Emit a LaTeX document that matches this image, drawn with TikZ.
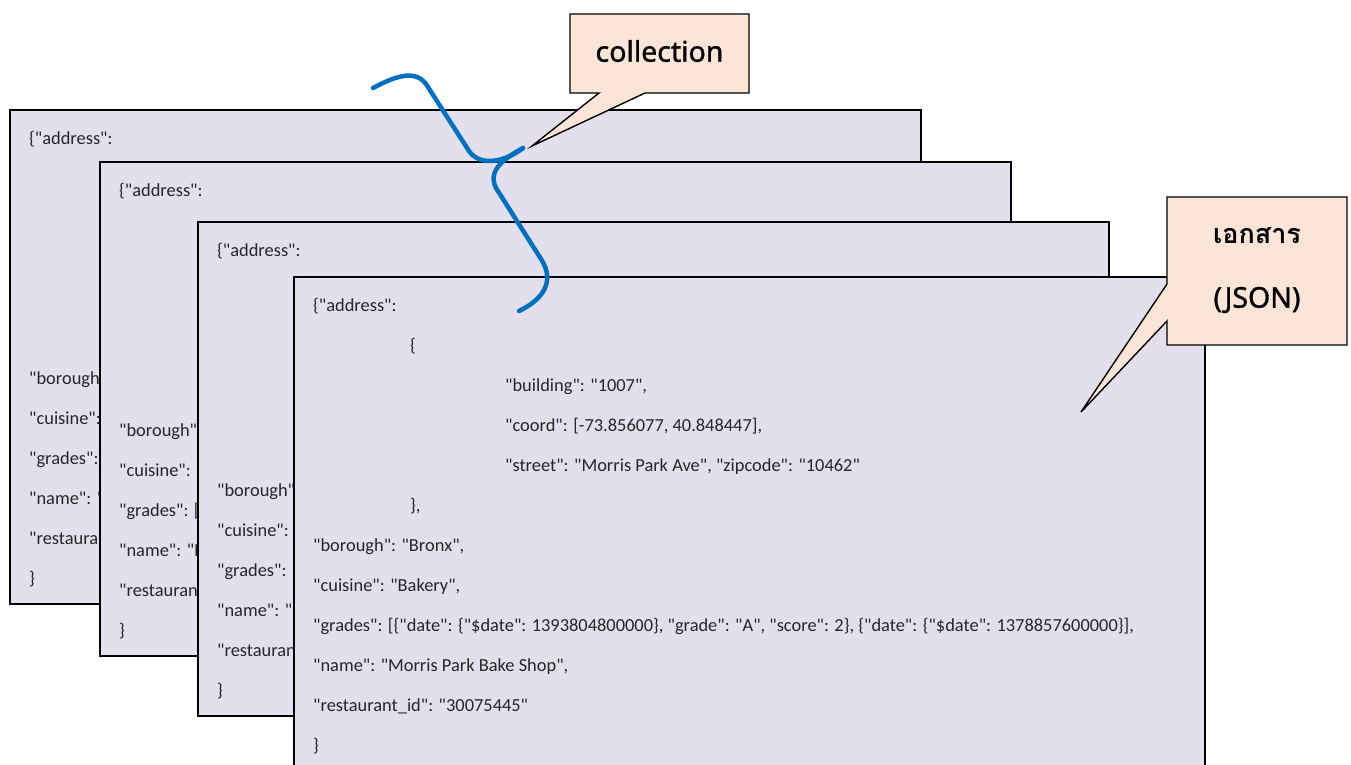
\documentclass[tikz,border=0pt]{standalone}
\usepackage{fontspec}
\newfontfamily\jsonfont{Carlito}
\newfontfamily\labelfont{Noto Sans}[FakeBold=1.2]
\newfontfamily\thaifont[Script=Thai]{Loma}
\definecolor{cardfill}{HTML}{E4DFEC}
\definecolor{notefill}{HTML}{FBE5D6}
\definecolor{bracecol}{HTML}{0070C0}

\tikzset{
  card/.style={draw=black, line width=1.8pt, fill=cardfill, anchor=north west,
    minimum width=911pt, minimum height=494pt, inner sep=0pt, outer sep=0pt},
  json/.style={anchor=base west, inner sep=0pt, text=black!85,
    font=\jsonfont\fontsize{18.4}{21}\selectfont},
  note/.style={draw=black, line width=1.4pt, fill=notefill, line join=miter},
  notetext/.style={inner sep=0pt, font=\labelfont\fontsize{28.5}{32}\selectfont},
  thainote/.style={inner sep=0pt, font=\thaifont\bfseries\fontsize{27}{30}\selectfont},
  brace/.style={draw=bracecol, line width=4.5pt, line cap=round, line join=round}
}

% one JSON document card; #1 name, (#2,#3) top-left corner
\newcommand\jsoncard[3]{%
  \begin{scope}[shift={(#2,#3)}]
    \node[card] (#1) at (0,0) {};
    \node[json] (#1-0)  at (19,34)  {\{"address":};
    \node[json] (#1-1)  at (116,74) {\{};
    \node[json] (#1-2)  at (211,114) {"building": "1007",};
    \node[json] (#1-3)  at (211,154) {"coord": [-73.856077, 40.848447],};
    \node[json] (#1-4)  at (211,194) {"street": "Morris Park Ave", "zipcode": "10462"};
    \node[json] (#1-5)  at (116,234) {\},};
    \node[json] (#1-6)  at (19,274) {"borough": "Bronx",};
    \node[json] (#1-7)  at (19,314) {"cuisine": "Bakery",};
    \node[json] (#1-8)  at (19,354) {"grades": [\{"date": \{"\$date": 1393804800000\}, "grade": "A", "score": 2\}, \{"date": \{"\$date": 1378857600000\}],};
    \node[json] (#1-9)  at (19,394) {"name": "Morris Park Bake Shop",};
    \node[json] (#1-10) at (19,434) {"restaurant\_id": "30075445"};
    \node[json] (#1-11) at (19,474) {\}};
  \end{scope}}

\begin{document}
\begin{tikzpicture}[x=1pt, y=-1pt]
  \useasboundingbox (0,0) rectangle (1351,764);
  \clip (0,0) rectangle (1351,764);

  % stack of documents, back to front
  \jsoncard{docA}{10}{110}
  \jsoncard{docB}{100}{162}
  \jsoncard{docC}{198}{222}
  \jsoncard{docD}{294}{277}

  % curly brace grouping the stack
  \coordinate (braceTop) at (373,88);
  \coordinate (braceTip) at (523,148);
  \coordinate (braceEnd) at (519,311);
  \draw[brace] (braceTop) .. controls (392,78) and (414,68) .. (426,84)
    -- (469,151) .. controls (480,167) and (505,162) .. (braceTip);
  \draw[brace] (braceTip) .. controls (505,158) and (487,170) .. (496,188)
    -- (541,259) .. controls (556,282) and (542,300) .. (braceEnd);

  % callout: collection
  \draw[note] (570,14) -- (749,14) -- (749,93) -- (645,93) -- (532,146)
    -- (599,93) -- (570,93) -- cycle;
  \node[notetext] (collection) at (659.5,51) {collection};

  % callout: document
  \draw[note] (1167,197) -- (1347,197) -- (1347,345) -- (1167,345) -- (1167,321)
    -- (1081,412) -- (1167,284) -- cycle;
  \node[thainote] (docname) at (1257,236) {เอกสาร};
  \node[notetext] (docjson) at (1257,300) {(JSON)};
\end{tikzpicture}
\end{document}
